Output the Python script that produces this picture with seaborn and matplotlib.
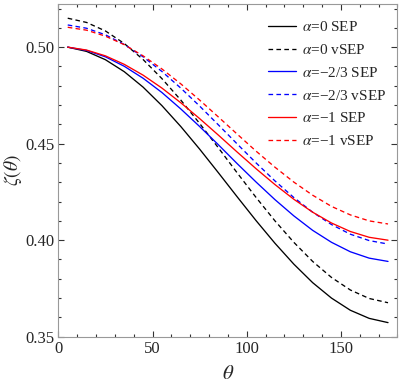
import numpy as np
import pandas as pd
import matplotlib
matplotlib.use("Agg")
import matplotlib.pyplot as plt
import seaborn as sns
from matplotlib.ticker import MultipleLocator

theta = [5, 15, 25, 35, 45, 55, 65, 75, 85, 95, 105, 115, 125, 135, 145, 155, 165, 175]

a0_sep = [0.5000, 0.4978, 0.4935, 0.4873, 0.4793, 0.4697, 0.4589, 0.4472, 0.4349,
          0.4224, 0.4101, 0.3984, 0.3876, 0.3780, 0.3700, 0.3637, 0.3595, 0.3573]
a0_vsep = [0.5150, 0.5128, 0.5084, 0.5019, 0.4936, 0.4837, 0.4726, 0.4605, 0.4478,
           0.4348, 0.4221, 0.4100, 0.3989, 0.3890, 0.3807, 0.3742, 0.3698, 0.3676]
a23_sep = [0.5000, 0.4983, 0.4950, 0.4901, 0.4839, 0.4765, 0.4680, 0.4589, 0.4494,
           0.4396, 0.4301, 0.4210, 0.4126, 0.4051, 0.3989, 0.3940, 0.3907, 0.3890]
a23_vsep = [0.5115, 0.5098, 0.5064, 0.5014, 0.4950, 0.4874, 0.4788, 0.4695, 0.4597,
            0.4498, 0.4400, 0.4307, 0.4221, 0.4145, 0.4081, 0.4031, 0.3998, 0.3980]
a1_sep = [0.5000, 0.4985, 0.4955, 0.4911, 0.4855, 0.4788, 0.4712, 0.4630, 0.4544,
          0.4456, 0.4370, 0.4288, 0.4212, 0.4145, 0.4089, 0.4045, 0.4015, 0.4000]
a1_vsep = [0.5103, 0.5088, 0.5057, 0.5013, 0.4955, 0.4887, 0.4810, 0.4726, 0.4638,
           0.4549, 0.4461, 0.4378, 0.4301, 0.4233, 0.4175, 0.4131, 0.4100, 0.4084]

labels = [r"$\alpha$=0 SEP", r"$\alpha$=0 vSEP",
          r"$\alpha$=−2/3 SEP", r"$\alpha$=−2/3 vSEP",
          r"$\alpha$=−1 SEP", r"$\alpha$=−1 vSEP"]
series = [a0_sep, a0_vsep, a23_sep, a23_vsep, a1_sep, a1_vsep]
colors = ["black", "black", "#0000ff", "#0000ff", "#ff0000", "#ff0000"]
dashed = [False, True, False, True, False, True]

sns.set_style("ticks")
plt.rcParams["font.family"] = ["Liberation Serif", "DejaVu Serif"]
plt.rcParams["mathtext.fontset"] = "stix"

fig = plt.figure(figsize=(3.99, 3.88), dpi=100)
ax = fig.add_axes([0.1461, 0.1322, 0.8500, 0.8587])

for lab, vals, col, dsh in zip(labels, series, colors, dashed):
    df = pd.DataFrame({"theta": theta, "zeta": vals})
    sns.lineplot(data=df, x="theta", y="zeta", ax=ax, color=col,
                 linewidth=0.95, label=lab)
    if dsh:
        ax.lines[-1].set_dashes((3.5, 2.5))

ax.set_xlim(0, 180)
ax.set_ylim(0.35, 0.5226)
ax.xaxis.set_major_locator(MultipleLocator(50))
ax.xaxis.set_minor_locator(MultipleLocator(10))
ax.yaxis.set_major_locator(MultipleLocator(0.05))
ax.yaxis.set_minor_locator(MultipleLocator(0.01))
ax.yaxis.set_major_formatter(matplotlib.ticker.FormatStrFormatter("%.2f"))
ax.tick_params(which="both", direction="in", top=True, right=True,
               color="#333333", labelsize=12, width=0.8)
ax.tick_params(which="major", length=4, pad=3)
ax.tick_params(which="minor", length=2.5)
for sp in ax.spines.values():
    sp.set_color("#999999")
    sp.set_linewidth(0.8)

ax.set_xlabel(r"$\theta$", fontsize=15, labelpad=6)
ax.set_ylabel(r"$\zeta(\theta)$", fontsize=14)
ax.yaxis.set_label_coords(-0.102, 0.5)

ax.legend(loc="upper left", bbox_to_anchor=(268 / 399, 1 - 20 / 388),
          bbox_transform=fig.transFigure, frameon=False, fontsize=11,
          handlelength=1.8, handletextpad=0.45, labelspacing=0.58,
          borderpad=0, borderaxespad=0)

fig.savefig("out.png", dpi=100)
